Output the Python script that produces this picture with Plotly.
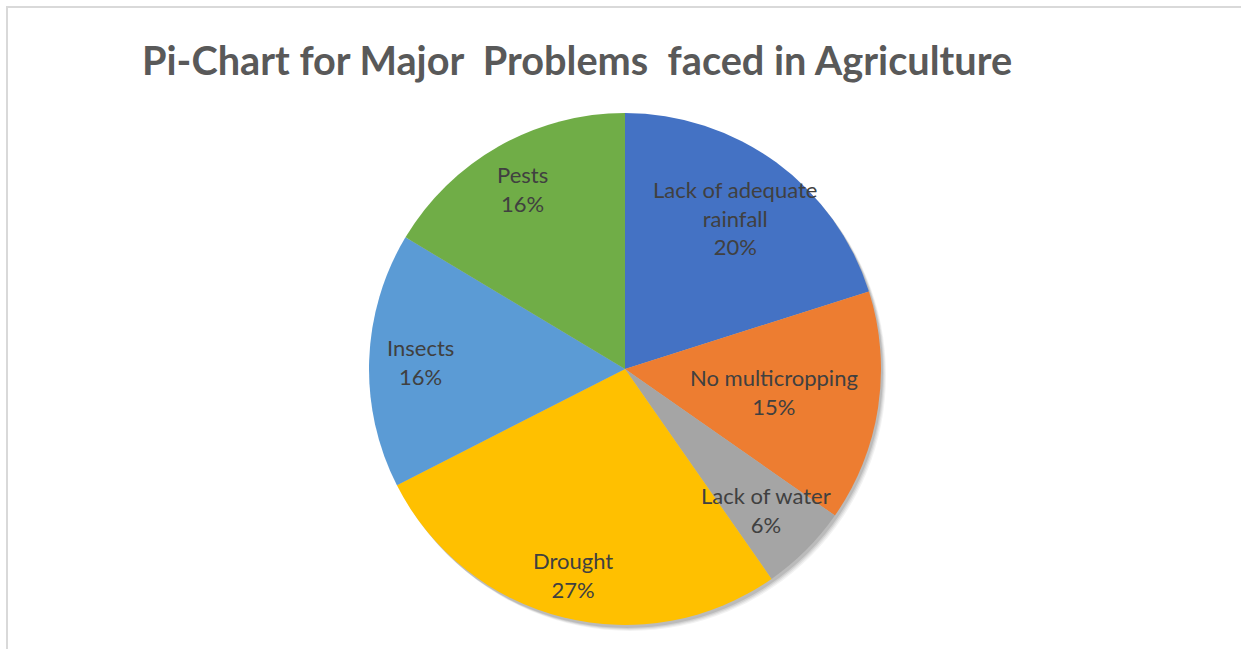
import math
import textwrap
import plotly.graph_objects as go

# ---- data ----
categories = ["Lack of adequate rainfall", "No multicropping", "Lack of water",
              "Drought", "Insects", "Pests"]
values = [20.1, 14.6, 5.6, 27.2, 16.1, 16.4]
colors = ["#4472C4", "#ED7D31", "#A5A5A5", "#FFC000", "#5B9BD5", "#70AD47"]
title_text = "Pi-Chart for Major \u00a0Problems \u00a0faced in Agriculture"

# ---- layout geometry (pixels) ----
W, H = 1241, 649
cx, cy, R = 625, 369, 256
label_radius_frac = [0.73, 0.59, 0.78, 0.83, 0.80, 0.81]

def px_x(p):
    return p / W

def px_y(p):
    return 1 - p / H

fig = go.Figure()

# soft shadow behind the pie
for off, alpha in [(5, 0.05), (4, 0.06), (3, 0.08), (2, 0.10)]:
    fig.add_trace(go.Pie(
        values=[sum(values)], labels=["shadow"], sort=False,
        marker=dict(colors=[f"rgba(0,0,0,{alpha})"], line=dict(width=0)),
        textinfo="none", hoverinfo="skip", showlegend=False,
        domain=dict(x=[px_x(cx - R + off), px_x(cx + R + off)],
                    y=[px_y(cy + R + off + 1), px_y(cy - R + off + 1)]),
    ))

fig.add_trace(go.Pie(
    labels=categories,
    values=values,
    sort=False,
    direction="clockwise",
    rotation=0,
    marker=dict(colors=colors, line=dict(width=0)),
    textinfo="none",
    hoverinfo="label+percent",
    showlegend=False,
    domain=dict(x=[px_x(cx - R), px_x(cx + R)], y=[px_y(cy + R), px_y(cy - R)]),
))

# labels placed at mid-angle of each slice
total = sum(values)
cum = 0
annotations = []
for name, v, f in zip(categories, values, label_radius_frac):
    mid = (cum + v / 2) / total * 2 * math.pi
    cum += v
    lx = cx + f * R * math.sin(mid)
    ly = cy - f * R * math.cos(mid)
    pct = int(math.floor(v / total * 100 + 0.5))
    text = "<br>".join(textwrap.wrap(name, 16)) + f"<br>{pct}%"
    annotations.append(dict(
        x=px_x(lx), y=px_y(ly), xref="paper", yref="paper",
        text=text, showarrow=False, xanchor="center", yanchor="middle",
        font=dict(family="Lato", size=22, color="#404040"),
    ))

annotations.append(dict(
    x=px_x(140), y=px_y(59), xref="paper", yref="paper",
    text=f"<b>{title_text}</b>", showarrow=False, xanchor="left", yanchor="middle",
    font=dict(family="Lato", size=39.7, color="#595959"),
))

fig.update_layout(
    width=W, height=H,
    margin=dict(l=0, r=0, t=0, b=0),
    paper_bgcolor="white",
    plot_bgcolor="white",
    annotations=annotations,
    shapes=[dict(type="rect", xref="paper", yref="paper",
                 x0=px_x(7), x1=1.05, y0=-0.05, y1=px_y(7),
                 line=dict(color="#D9D9D9", width=2), fillcolor="rgba(0,0,0,0)")],
)

fig.write_html("out.html")
